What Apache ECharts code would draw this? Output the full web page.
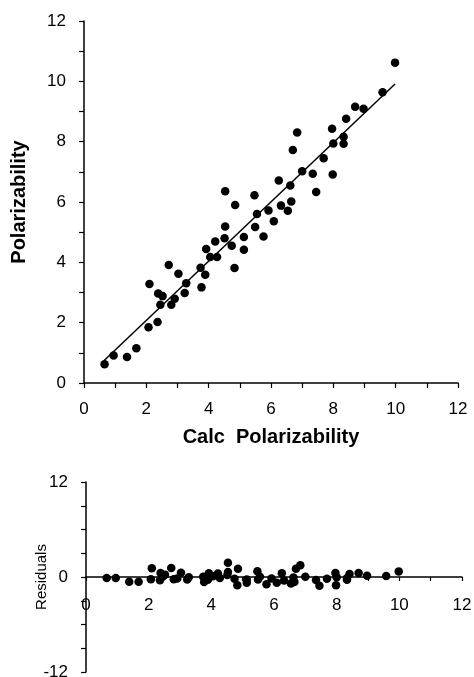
<!DOCTYPE html>
<html>
<head>
<meta charset="utf-8">
<script src="https://cdn.jsdelivr.net/npm/echarts@6/dist/echarts.min.js"></script>
<style>
html,body{margin:0;padding:0;background:#fff;}
#chart{width:474px;height:677px;}
</style>
</head>
<body>
<div id="chart"></div>
<script>
// Calculated polarizability (x)
var calcX = [0.66,0.95,1.38,1.68,2.07,2.36,2.10,2.38,2.52,2.45,2.72,2.80,2.91,3.03,3.23,3.28,3.74,3.77,3.89,3.92,
             4.05,4.27,4.21,4.51,4.53,4.74,4.83,4.53,4.85,5.13,5.13,5.49,5.55,5.47,5.76,5.92,6.09,6.25,6.32,6.54,
             6.65,6.62,7.00,7.34,7.45,6.84,6.70,7.69,7.98,7.96,8.00,8.33,8.33,8.41,8.70,8.97,9.58,9.98];
// Observed polarizability (y)
var obsY = [0.62,0.91,0.86,1.15,1.85,2.02,3.28,2.97,2.88,2.59,3.91,2.59,2.79,3.62,2.98,3.31,3.82,3.17,3.59,4.44,
            4.18,4.18,4.69,4.80,5.19,4.55,3.81,6.36,5.90,4.84,4.42,5.17,5.60,6.22,4.86,5.72,5.36,6.71,5.88,5.71,
            6.02,6.55,7.02,6.94,6.33,8.30,7.72,7.45,6.91,8.43,7.94,8.16,7.93,8.76,9.16,9.09,9.64,10.62];
// Residuals
var residY = [-0.14,-0.13,-0.61,-0.61,-0.29,-0.41,1.11,0.52,0.30,0.07,1.13,-0.27,-0.18,0.53,-0.30,-0.02,0.04,-0.64,-0.34,0.48,
              0.09,-0.12,0.45,0.26,0.63,-0.21,-1.04,1.80,1.03,-0.31,-0.73,-0.33,0.04,0.74,-0.91,-0.20,-0.73,0.46,-0.44,-0.82,
              -0.62,-0.06,0.04,-0.38,-1.10,1.47,1.03,-0.21,-1.04,0.50,-0.03,-0.13,-0.36,0.39,0.51,0.17,0.12,0.71];
// Fitted line end points
var fitX = [0.62, 9.98];
var fitY = [0.72, 9.91];

var upperTicks = [0,2,4,6,8,10,12];
var residTickLabels = [-12,0,12];

function pairs(a,b){var r=[];for(var i=0;i<a.length;i++){r.push([a[i],b[i]]);}return r;}

var FONT = 'Liberation Sans';
var axisLineStyle = {color:'#000', width:1.5};
var labelStyle = {color:'#000', fontFamily:FONT, fontSize:17};

function evenOnly(v){ return upperTicks.indexOf(v) >= 0 ? String(v) : ''; }

var chart = echarts.init(document.getElementById('chart'), null, {renderer:'canvas'});
chart.setOption({
  animation:false,
  backgroundColor:'#fff',
  grid:[
    {left:84, right:16, top:21, bottom:294, containLabel:false, outerBoundsMode:'none'},
    {left:86, right:12, top:482, bottom:5, containLabel:false, outerBoundsMode:'none'}
  ],
  xAxis:[
    {gridIndex:0, type:'value', min:0, max:12, interval:1,
     name:'Calc  Polarizability', nameLocation:'middle', nameGap:44, nameMoveOverlap:false,
     nameTextStyle:{color:'#000', fontFamily:FONT, fontSize:20, fontWeight:'bold'},
     axisLine:{show:true, lineStyle:axisLineStyle},
     axisTick:{show:true, inside:false, length:5, lineStyle:{color:'#000', width:1.2}},
     axisLabel:Object.assign({margin:18, formatter:evenOnly}, labelStyle),
     splitLine:{show:false}},
    {gridIndex:1, type:'value', min:0, max:12, interval:1, position:'bottom', offset:-95,
     axisLine:{show:true, onZero:false, lineStyle:axisLineStyle},
     axisTick:{show:true, inside:false, length:4, lineStyle:{color:'#000', width:1.2}},
     axisLabel:Object.assign({margin:20, formatter:evenOnly}, labelStyle),
     splitLine:{show:false}}
  ],
  yAxis:[
    {gridIndex:0, type:'value', min:0, max:12, interval:1,
     name:'Polarizability', nameLocation:'middle', nameGap:55, nameMoveOverlap:false,
     nameTextStyle:{color:'#000', fontFamily:FONT, fontSize:20, fontWeight:'bold'},
     axisLine:{show:true, lineStyle:axisLineStyle},
     axisTick:{show:true, inside:false, length:5, lineStyle:{color:'#000', width:1.2}},
     axisLabel:Object.assign({margin:18, formatter:evenOnly}, labelStyle),
     splitLine:{show:false}},
    {gridIndex:1, type:'value', min:-12, max:12, interval:3,
     name:'Residuals', nameLocation:'middle', nameGap:37, nameMoveOverlap:false,
     nameTextStyle:{color:'#000', fontFamily:FONT, fontSize:15},
     axisLine:{show:true, onZero:false, lineStyle:axisLineStyle},
     axisTick:{show:true, inside:false, length:5, lineStyle:{color:'#000', width:1.2}},
     axisLabel:Object.assign({margin:18, formatter:function(v){return residTickLabels.indexOf(v)>=0?String(v):'';}}, labelStyle),
     splitLine:{show:false}}
  ],
  series:[
    {type:'line', xAxisIndex:0, yAxisIndex:0, data:pairs(fitX,fitY), symbol:'none',
     lineStyle:{color:'#000', width:1.5}, silent:true, z:2},
    {type:'scatter', xAxisIndex:0, yAxisIndex:0, data:pairs(calcX,obsY), symbol:'circle', symbolSize:8.5,
     itemStyle:{color:'#000', opacity:1}, z:3},
    {type:'scatter', xAxisIndex:1, yAxisIndex:1, data:pairs(calcX,residY), symbol:'circle', symbolSize:8.5,
     itemStyle:{color:'#000', opacity:1}, z:3}
  ]
});
</script>
</body>
</html>
